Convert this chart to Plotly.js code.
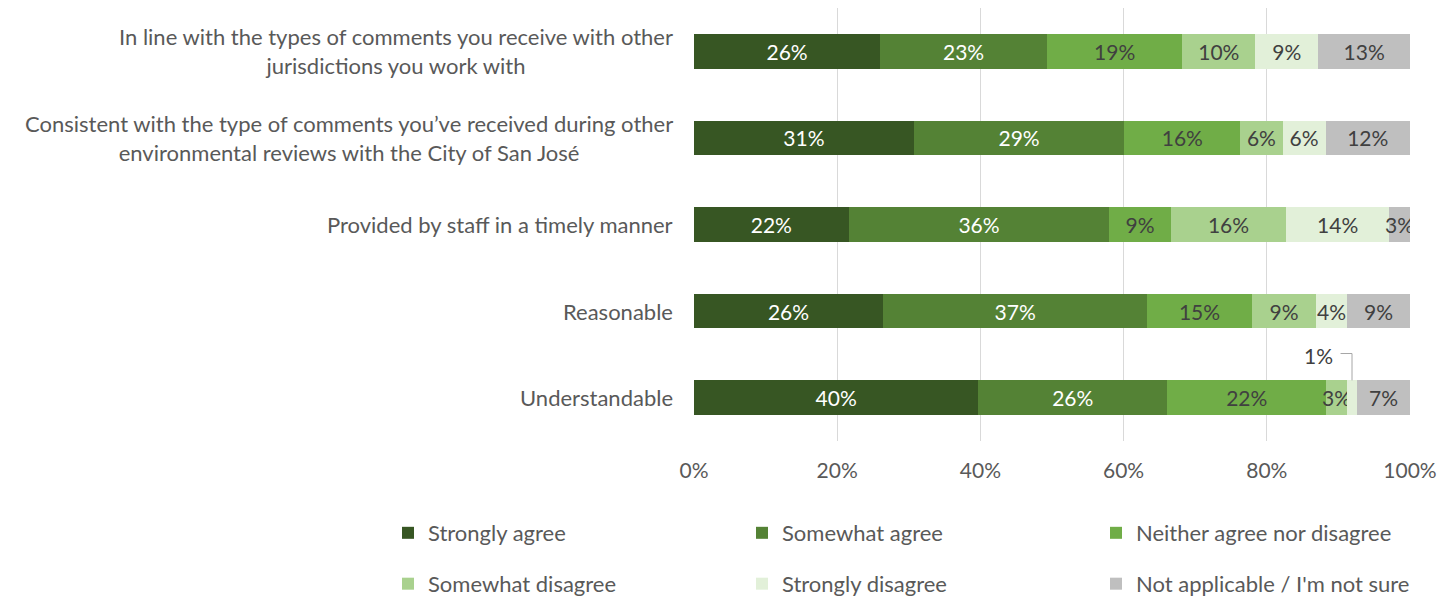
<!DOCTYPE html>
<html>
<head>
<meta charset="utf-8">
<script src="https://cdn.plot.ly/plotly-3.0.1.min.js"></script>
<style>html,body{margin:0;padding:0;background:#fff;}#chart{width:1456px;height:601px;}</style>
</head>
<body>
<div id="chart"></div>
<script>
const categories = [
  "In line with the types of comments you receive with other<br>jurisdictions you work with",
  "Consistent with the type of comments you’ve received during other<br>environmental reviews with the City of San José",
  "Provided by staff in a timely manner",
  "Reasonable",
  "Understandable"
];
const seriesNames = ["Strongly agree", "Somewhat agree", "Neither agree nor disagree", "Somewhat disagree", "Strongly disagree", "Not applicable / I'm not sure"];
const stronglyAgree    = [26.0, 30.7, 21.6, 26.4, 39.7];
const somewhatAgree    = [23.3, 29.4, 36.4, 36.9, 26.4];
const neither          = [18.9, 16.2,  8.6, 14.6, 22.2];
const somewhatDisagree = [10.2,  5.9, 16.1,  9.0,  2.9];
const stronglyDisagree = [ 8.8,  6.0, 14.4,  4.3,  1.4];
const notApplicable    = [12.8, 11.8,  2.9,  8.8,  7.4];
const xTicks = [0, 20, 40, 60, 80, 100];

const allSeries = [stronglyAgree, somewhatAgree, neither, somewhatDisagree, stronglyDisagree, notApplicable];
const colors = ["#375623", "#548235", "#70AD47", "#A9D18E", "#E2F0D9", "#BFBFBF"];
const textColors = ["#ffffff", "#ffffff", "#404040", "#404040", "#404040", "#404040"];
const FONT = "Lato, 'Open Sans', sans-serif";
const FS = 22;
const NFS = 21;
const SMALL = 2;

const traces = allSeries.map((vals, i) => ({
  type: "bar",
  orientation: "h",
  name: seriesNames[i],
  x: vals,
  y: categories,
  marker: {color: colors[i], line: {width: 0}},
  text: vals.map(v => v < SMALL ? "" : Math.round(v) + "%"),
  texttemplate: "%{text}",
  textposition: "inside",
  insidetextanchor: "middle",
  textangle: 0,
  constraintext: "none",
  textfont: {family: FONT, size: NFS, color: textColors[i]},
  hoverinfo: "name+x",
  legend: i < 3 ? "legend" : "legend2"
}));

const annotations = categories.map(c => ({
  xref: "paper", yref: "y", x: 0, y: c, xshift: -19,
  xanchor: "right", yanchor: "middle", align: "center",
  text: c, showarrow: false,
  font: {family: FONT, size: FS, color: "#595959"}
}));

const shapes = [];
// small segments labelled outside with a leader line
allSeries.forEach((vals, si) => {
  vals.forEach((v, ci) => {
    if (v >= SMALL) return;
    let start = 0;
    for (let k = 0; k < si; k++) start += allSeries[k][ci];
    const mid = start + v / 2;
    const yLine = ci - 0.51;
    annotations.push({
      xref: "x", yref: "y", x: mid - 4.7, y: ci - 0.49,
      xanchor: "center", yanchor: "middle",
      text: Math.round(v) + "%", showarrow: false,
      font: {family: FONT, size: NFS, color: "#404040"}
    });
    shapes.push({type: "line", xref: "x", yref: "y", x0: mid - 1.6, x1: mid, y0: yLine, y1: yLine, line: {color: "#a6a6a6", width: 1}});
    shapes.push({type: "line", xref: "x", yref: "y", x0: mid, x1: mid, y0: yLine, y1: ci - 0.2, line: {color: "#a6a6a6", width: 1}});
  });
});

const legendBase = {
  orientation: "h", xref: "paper", yref: "paper", xanchor: "left", yanchor: "middle",
  x: -0.4274, entrywidth: 309, entrywidthmode: "pixels", itemwidth: 30,
  traceorder: "normal",
  font: {family: FONT, size: FS, color: "#595959"}, bgcolor: "rgba(0,0,0,0)",
  itemclick: false, itemdoubleclick: false
};

const layout = {
  width: 1456, height: 601,
  margin: {l: 694, r: 46, t: 8, b: 160, pad: 0, autoexpand: false},
  paper_bgcolor: "#ffffff", plot_bgcolor: "#ffffff",
  barmode: "stack", bargap: 0.6,
  font: {family: FONT, size: FS, color: "#595959"},
  xaxis: {
    range: [0, 100], tickvals: xTicks, ticktext: xTicks.map(t => t + "%"),
    showgrid: true, gridcolor: "#d9d9d9", gridwidth: 1,
    zeroline: false, showline: false, ticks: "", ticklabelstandoff: 15,
    tickfont: {family: FONT, size: NFS, color: "#595959"}, fixedrange: true
  },
  yaxis: {
    type: "category", autorange: "reversed", showticklabels: false,
    showgrid: false, zeroline: false, showline: false, ticks: "", fixedrange: true
  },
  legend: Object.assign({}, legendBase, {y: -0.2125}),
  legend2: Object.assign({}, legendBase, {y: -0.330}),
  annotations: annotations,
  shapes: shapes,
  showlegend: true
};

Plotly.newPlot("chart", traces, layout, {displayModeBar: false, staticPlot: false});
</script>
</body>
</html>
